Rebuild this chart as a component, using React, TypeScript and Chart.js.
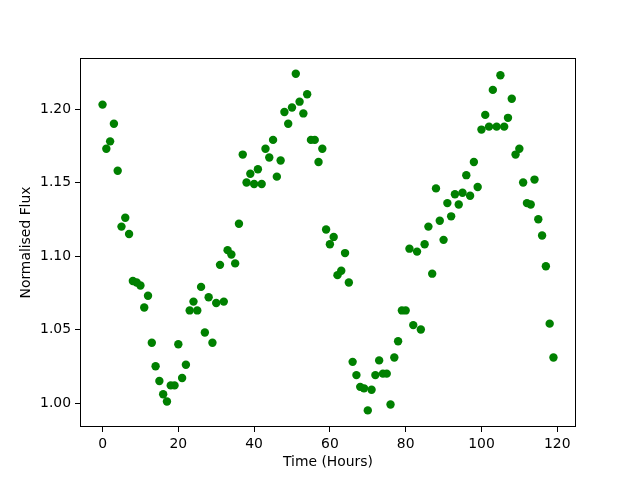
import React, { useEffect, useRef } from "react";
import { Chart, registerables } from "chart.js";

Chart.register(...registerables);

const hours: number[] = Array.from({ length: 120 }, (_, i) => i);
const flux: number[] = [
  1.203, 1.173, 1.178, 1.190, 1.158, 1.120, 1.126, 1.115, 1.083, 1.082,
  1.080, 1.065, 1.073, 1.041, 1.025, 1.015, 1.006, 1.001, 1.012, 1.012,
  1.040, 1.017, 1.026, 1.063, 1.069, 1.063, 1.079, 1.048, 1.072, 1.041,
  1.068, 1.094, 1.069, 1.104, 1.101, 1.095, 1.122, 1.169, 1.150, 1.156,
  1.149, 1.159, 1.149, 1.173, 1.167, 1.179, 1.154, 1.165, 1.198, 1.190,
  1.201, 1.224, 1.205, 1.197, 1.210, 1.179, 1.179, 1.164, 1.173, 1.118,
  1.108, 1.113, 1.087, 1.090, 1.102, 1.082, 1.028, 1.019, 1.011, 1.010,
  0.995, 1.009, 1.019, 1.029, 1.020, 1.020, 0.999, 1.031, 1.042, 1.063,
  1.063, 1.105, 1.053, 1.103, 1.050, 1.108, 1.120, 1.088, 1.146, 1.124,
  1.111, 1.136, 1.127, 1.142, 1.135, 1.143, 1.155, 1.141, 1.164, 1.147,
  1.186, 1.196, 1.188, 1.213, 1.188, 1.223, 1.188, 1.194, 1.207, 1.169,
  1.173, 1.150, 1.136, 1.135, 1.152, 1.125, 1.114, 1.093, 1.054, 1.031,
];
const xTicks: number[] = [0, 20, 40, 60, 80, 100, 120];
const yTicks: number[] = [1.0, 1.05, 1.1, 1.15, 1.2];

const FONT = "'DejaVu Sans', sans-serif";

const frame = {
  id: "frame",
  afterDraw(chart: any) {
    const { ctx, chartArea: a } = chart;
    ctx.save();
    ctx.strokeStyle = "#000";
    ctx.lineWidth = 1;
    ctx.strokeRect(Math.round(a.left) + 0.5, Math.round(a.top) + 0.5, Math.round(a.right - a.left) - 1, Math.round(a.bottom - a.top) - 1);
    ctx.restore();
  },
};

export default function App() {
  const ref = useRef<HTMLCanvasElement | null>(null);
  useEffect(() => {
    if (!ref.current) return;
    const chart = new Chart(ref.current, {
      type: "scatter",
      data: {
        datasets: [
          {
            data: hours.map((h, i) => ({ x: h, y: flux[i] })),
            backgroundColor: "#008000",
            borderColor: "#008000",
            borderWidth: 0,
            pointRadius: 4.2,
          },
        ],
      },
      plugins: [frame],
      options: {
        responsive: false,
        animation: false,
        layout: { padding: { left: 0, top: 58, right: 64, bottom: 0 } },
        plugins: { legend: { display: false }, tooltip: { enabled: false } },
        scales: {
          x: {
            type: "linear",
            min: -5.95,
            max: 124.95,
            afterBuildTicks: (s: any) => {
              s.ticks = xTicks.map((v) => ({ value: v }));
            },
            afterFit: (s: any) => {
              s.height = 53;
            },
            border: { display: false },
            grid: { drawOnChartArea: false, drawTicks: true, tickLength: 5, tickColor: "#000" },
            ticks: { color: "#000", font: { family: FONT, size: 13.9 }, padding: 4, maxRotation: 0, callback: (v: any) => String(v) },
            title: { display: true, text: "Time (Hours)", color: "#000", font: { family: FONT, size: 13.9 }, padding: 9 },
          },
          y: {
            type: "linear",
            min: 0.9837,
            max: 1.2347,
            afterBuildTicks: (s: any) => {
              s.ticks = yTicks.map((v) => ({ value: v }));
            },
            afterFit: (s: any) => {
              s.width = 80;
            },
            border: { display: false },
            grid: { drawOnChartArea: false, drawTicks: true, tickLength: 5, tickColor: "#000" },
            ticks: { color: "#000", font: { family: FONT, size: 13.9 }, padding: 4, callback: (v: any) => Number(v).toFixed(2) },
            title: { display: true, text: "Normalised Flux", color: "#000", font: { family: FONT, size: 13.9 }, padding: 18 },
          },
        },
      },
    });
    return () => chart.destroy();
  }, []);
  return (
    <div style={{ position: "fixed", left: 0, top: 0, width: 640, height: 480, background: "#fff" }}>
      <canvas ref={ref} width={640} height={480} />
    </div>
  );
}
